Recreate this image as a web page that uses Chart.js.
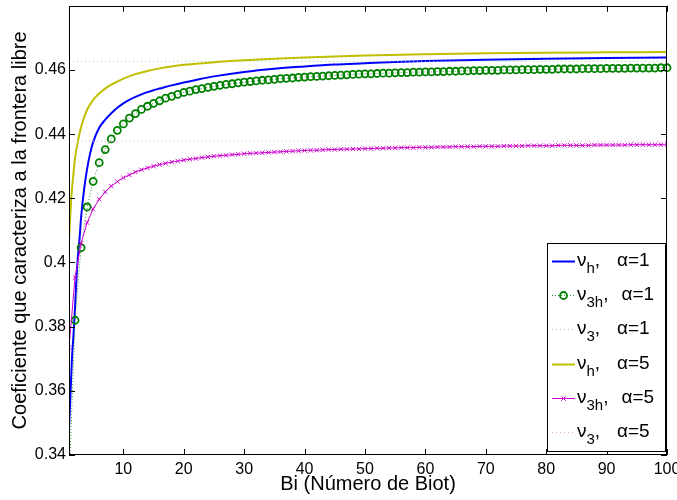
<!DOCTYPE html>
<html>
<head>
<meta charset="utf-8">
<script src="https://cdn.jsdelivr.net/npm/chart.js@4.4.0/dist/chart.umd.min.js"></script>
<style>
  html, body { margin: 0; padding: 0; background: #fff; }
  canvas { display: block; }
</style>
</head>
<body>
<canvas id="c" width="677" height="500"></canvas>
<script>
// Biot number grid used by the marker series
const bi = Array.from({ length: 100 }, (_, i) => i + 1);
const biEnds = [1, 100];

// nu_h, alpha = 1 (solid blue)
const nuhA1Bi = [1, 1.25, 1.5, 1.75, 2, 2.25, 2.5, 2.75, 3, 3.5, 4, 4.5, 5, 6, 7, 8, 9, 10, 11, 12, 13, 14, 15, 16, 18, 20, 22, 25, 30, 35, 40, 45, 50, 55, 60, 70, 80, 90, 100];
const nuhA1 = [0.3480, 0.3590, 0.3705, 0.3775, 0.3860, 0.3955, 0.4025, 0.4075, 0.4140, 0.4228, 0.4292, 0.4340, 0.4375, 0.4420, 0.4445, 0.4465, 0.4482, 0.4496, 0.4507, 0.4516, 0.4524, 0.4531, 0.4537, 0.4542, 0.4552, 0.4561, 0.4569, 0.4580, 0.4594, 0.4604, 0.4611, 0.4617, 0.4621, 0.4625, 0.4628, 0.4632, 0.4635, 0.4637, 0.4639];

// nu_3h, alpha = 1 (green circles)
const nu3hA1 = [
  0.3300, 0.3820, 0.4046, 0.4173, 0.4253, 0.4311, 0.4352, 0.4385, 0.4412, 0.4432,
  0.4450, 0.4464, 0.4477, 0.4487, 0.4496, 0.4504, 0.4512, 0.4518, 0.4524, 0.4530,
  0.4534, 0.4539, 0.4542, 0.4546, 0.4549, 0.4552, 0.4555, 0.4557, 0.4560, 0.4562,
  0.4564, 0.4566, 0.4568, 0.4569, 0.4571, 0.4573, 0.4574, 0.4575, 0.4577, 0.4578,
  0.4579, 0.4580, 0.4581, 0.4582, 0.4583, 0.4584, 0.4585, 0.4586, 0.4587, 0.4588,
  0.4588, 0.4589, 0.4590, 0.4590, 0.4591, 0.4592, 0.4592, 0.4593, 0.4593, 0.4594,
  0.4594, 0.4595, 0.4595, 0.4596, 0.4596, 0.4597, 0.4597, 0.4598, 0.4598, 0.4599,
  0.4599, 0.4599, 0.4600, 0.4600, 0.4600, 0.4601, 0.4601, 0.4601, 0.4602, 0.4602,
  0.4602, 0.4603, 0.4603, 0.4603, 0.4603, 0.4604, 0.4604, 0.4604, 0.4604, 0.4605,
  0.4605, 0.4605, 0.4605, 0.4606, 0.4606, 0.4606, 0.4606, 0.4606, 0.4607, 0.4607
];

// nu_3, alpha = 1 (dotted light green)
const nu3A1 = [0.4627, 0.4627];

// nu_h, alpha = 5 (solid yellow)
const nuhA5Bi = [1, 1.25, 1.5, 1.75, 2, 2.5, 3, 3.5, 4, 5, 6, 7, 8, 9, 10, 12, 14, 16, 18, 20, 25, 30, 35, 40, 50, 60, 70, 80, 90, 100];
const nuhA5 = [0.4070, 0.4160, 0.4230, 0.4280, 0.4325, 0.4380, 0.4422, 0.4452, 0.4476, 0.4507, 0.4527, 0.4542, 0.4554, 0.4564, 0.4573, 0.4587, 0.4597, 0.4605, 0.4611, 0.4616, 0.4624, 0.4630, 0.4635, 0.4639, 0.4645, 0.4649, 0.4652, 0.4654, 0.4655, 0.4656];

// nu_3h, alpha = 5 (magenta crosses)
const nu3hA5 = [
  0.3735, 0.3953, 0.4060, 0.4124, 0.4167, 0.4197, 0.4220, 0.4238, 0.4252, 0.4264,
  0.4273, 0.4282, 0.4289, 0.4295, 0.4300, 0.4305, 0.4309, 0.4313, 0.4316, 0.4319,
  0.4322, 0.4324, 0.4327, 0.4329, 0.4331, 0.4333, 0.4334, 0.4336, 0.4337, 0.4339,
  0.4340, 0.4341, 0.4342, 0.4343, 0.4344, 0.4345, 0.4346, 0.4347, 0.4348, 0.4349,
  0.4350, 0.4350, 0.4351, 0.4352, 0.4352, 0.4353, 0.4353, 0.4354, 0.4354, 0.4355,
  0.4355, 0.4356, 0.4356, 0.4357, 0.4357, 0.4358, 0.4358, 0.4358, 0.4359, 0.4359,
  0.4359, 0.4360, 0.4360, 0.4360, 0.4361, 0.4361, 0.4361, 0.4361, 0.4362, 0.4362,
  0.4362, 0.4362, 0.4363, 0.4363, 0.4363, 0.4363, 0.4364, 0.4364, 0.4364, 0.4364,
  0.4364, 0.4365, 0.4365, 0.4365, 0.4365, 0.4365, 0.4365, 0.4366, 0.4366, 0.4366,
  0.4366, 0.4366, 0.4366, 0.4367, 0.4367, 0.4367, 0.4367, 0.4367, 0.4367, 0.4367
];

// nu_3, alpha = 5 (dotted light pink)
const nu3A5 = [0.4378, 0.4378];

// Axis ticks
const xTicks = [10, 20, 30, 40, 50, 60, 70, 80, 90, 100];
const yTicks = [0.34, 0.36, 0.38, 0.40, 0.42, 0.44, 0.46];

// Legend text pieces: symbol, subscript, parameter
const legendSymbol = ['ν', 'ν', 'ν', 'ν', 'ν', 'ν'];
const legendSub = ['h', '3h', '3', 'h', '3h', '3'];
const legendParam = ['α=1', 'α=1', 'α=1', 'α=5', 'α=5', 'α=5'];

const FONT = "'Liberation Sans', Arial, Helvetica, sans-serif";
Chart.defaults.font.family = FONT;
Chart.defaults.color = '#000';

const pts = (xs, ys) => xs.map((x, i) => ({ x: x, y: ys[i] }));

const datasets = [
  { data: pts(nuhA1Bi, nuhA1), borderColor: '#0000ff', borderWidth: 2, pointRadius: 0, cubicInterpolationMode: 'monotone', order: 5 },
  { data: pts(bi, nu3hA1), borderColor: '#2f9a2f', borderWidth: 1, borderDash: [1, 2], pointStyle: 'circle', pointRadius: 3.5, pointBorderWidth: 1.8,
    pointBorderColor: '#008000', pointBackgroundColor: 'rgba(0,0,0,0)', clip: { left: 6, right: 6, top: 6, bottom: 0 }, order: 4,
    markerColor: '#008000' },
  { data: pts(biEnds, nu3A1), borderColor: '#8fd08f', borderWidth: 1, borderDash: [1, 3], pointRadius: 0, order: 3 },
  { data: pts(nuhA5Bi, nuhA5), borderColor: '#bfbf00', borderWidth: 2, pointRadius: 0, cubicInterpolationMode: 'monotone', order: 2 },
  { data: pts(bi, nu3hA5), borderColor: '#cc00cc', borderWidth: 1, pointStyle: 'crossRot', pointRadius: 3, pointBorderWidth: 1,
    pointBorderColor: '#cc00cc', order: 1, markerColor: '#cc00cc' },
  { data: pts(biEnds, nu3A5), borderColor: '#f2a6f2', borderWidth: 1, borderDash: [1, 3], pointRadius: 0, order: 0 }
];

// Box with inward tick marks on all four sides
const frame = {
  id: 'frame',
  afterDatasetsDraw(chart) {
    const { ctx, chartArea: a, scales: { x, y } } = chart;
    ctx.save();
    ctx.strokeStyle = '#000';
    ctx.lineWidth = 1;
    ctx.setLineDash([]);
    ctx.beginPath();
    xTicks.forEach(v => {
      const px = Math.round(x.getPixelForValue(v)) + 0.5;
      ctx.moveTo(px, a.bottom); ctx.lineTo(px, a.bottom - 6);
      ctx.moveTo(px, a.top); ctx.lineTo(px, a.top + 6);
    });
    yTicks.forEach(v => {
      const py = Math.round(y.getPixelForValue(v)) + 0.5;
      ctx.moveTo(a.left, py); ctx.lineTo(a.left + 6, py);
      ctx.moveTo(a.right, py); ctx.lineTo(a.right - 6, py);
    });
    ctx.stroke();
    ctx.strokeRect(Math.round(a.left) + 0.5, Math.round(a.top) + 0.5,
                   Math.round(a.right - a.left) - 1, Math.round(a.bottom - a.top) - 1);
    ctx.restore();
  }
};

// Legend with subscripted symbols
const legendBox = {
  id: 'legendBox',
  afterDraw(chart) {
    const { ctx, chartArea: a } = chart;
    const w = 118, h = 208;
    const left = Math.round(a.right - 2 - w), top = Math.round(a.bottom - 4 - h);
    ctx.save();
    ctx.fillStyle = '#fff';
    ctx.fillRect(left, top, w, h);
    ctx.strokeStyle = '#000';
    ctx.lineWidth = 1;
    ctx.strokeRect(left + 0.5, top + 0.5, w, h);

    chart.data.datasets.forEach((ds, i) => {
      const cy = Math.round(top + 18 + i * 34.2) + 0.5;
      ctx.strokeStyle = ds.borderColor;
      ctx.lineWidth = ds.borderWidth;
      ctx.setLineDash(ds.borderDash || []);
      ctx.beginPath();
      ctx.moveTo(left + 5, cy);
      ctx.lineTo(left + 28, cy);
      ctx.stroke();
      ctx.setLineDash([]);
      const mx = left + 16.5;
      if (ds.pointStyle === 'circle') {
        ctx.strokeStyle = ds.markerColor;
        ctx.lineWidth = ds.pointBorderWidth;
        ctx.beginPath();
        ctx.arc(mx, cy, ds.pointRadius, 0, Math.PI * 2);
        ctx.stroke();
      } else if (ds.pointStyle === 'crossRot') {
        const r = ds.pointRadius * 0.75;
        ctx.strokeStyle = ds.markerColor;
        ctx.lineWidth = ds.pointBorderWidth;
        ctx.beginPath();
        ctx.moveTo(mx - r, cy - r); ctx.lineTo(mx + r, cy + r);
        ctx.moveTo(mx - r, cy + r); ctx.lineTo(mx + r, cy - r);
        ctx.stroke();
      }

      const base = cy + 4;
      let tx = left + 30;
      ctx.fillStyle = '#000';
      ctx.textBaseline = 'alphabetic';
      ctx.textAlign = 'left';
      ctx.font = '19px ' + FONT;
      ctx.fillText(legendSymbol[i], tx, base);
      tx += ctx.measureText(legendSymbol[i]).width;
      ctx.font = '15px ' + FONT;
      ctx.fillText(legendSub[i], tx, base + 7);
      tx += ctx.measureText(legendSub[i]).width;
      ctx.font = '19px ' + FONT;
      ctx.fillText(',', tx, base);
      tx += ctx.measureText(',').width;
      ctx.fillText(legendParam[i], Math.max(tx + 13, left + 70), base);
    });
    ctx.restore();
  }
};

// Fixed box sizes for the axes so the plot area lands where it should
const fitX = s => { s.height = 45; s.paddingLeft = 0; s.paddingRight = 0; s.paddingTop = 0; s.paddingBottom = 0; };
const fitY = s => { s.width = 69; s.paddingLeft = 0; s.paddingRight = 0; s.paddingTop = 0; s.paddingBottom = 0; };

new Chart(document.getElementById('c'), {
  type: 'line',
  data: { datasets: datasets },
  options: {
    responsive: false,
    animation: false,
    devicePixelRatio: 1,
    events: [],
    layout: { padding: { top: 5, right: 10, left: 0, bottom: 0 } },
    plugins: { legend: { display: false }, tooltip: { enabled: false } },
    scales: {
      x: {
        type: 'linear',
        min: 1,
        max: 100,
        grid: { display: false, drawTicks: false },
        border: { display: false },
        afterBuildTicks: s => { s.ticks = xTicks.map(v => ({ value: v })); },
        afterFit: fitX,
        ticks: { font: { size: 16 }, color: '#000', padding: 5, maxRotation: 0, autoSkip: false, callback: v => String(v) },
        title: { display: true, text: 'Bi (Número de Biot)', font: { size: 20 }, color: '#000', padding: { top: 0, bottom: 4 } }
      },
      y: {
        type: 'linear',
        min: 0.34,
        max: 0.48,
        grid: { display: false, drawTicks: false },
        border: { display: false },
        afterBuildTicks: s => { s.ticks = yTicks.map(v => ({ value: v })); },
        afterFit: fitY,
        ticks: { font: { size: 16 }, color: '#000', padding: 3, autoSkip: false, callback: v => String(+Number(v).toFixed(2)) },
        title: { display: true, text: 'Coeficiente que caracteriza a la frontera libre', font: { size: 20 }, color: '#000', padding: { top: 8, bottom: 0 } }
      }
    }
  },
  plugins: [frame, legendBox]
});
</script>
</body>
</html>
